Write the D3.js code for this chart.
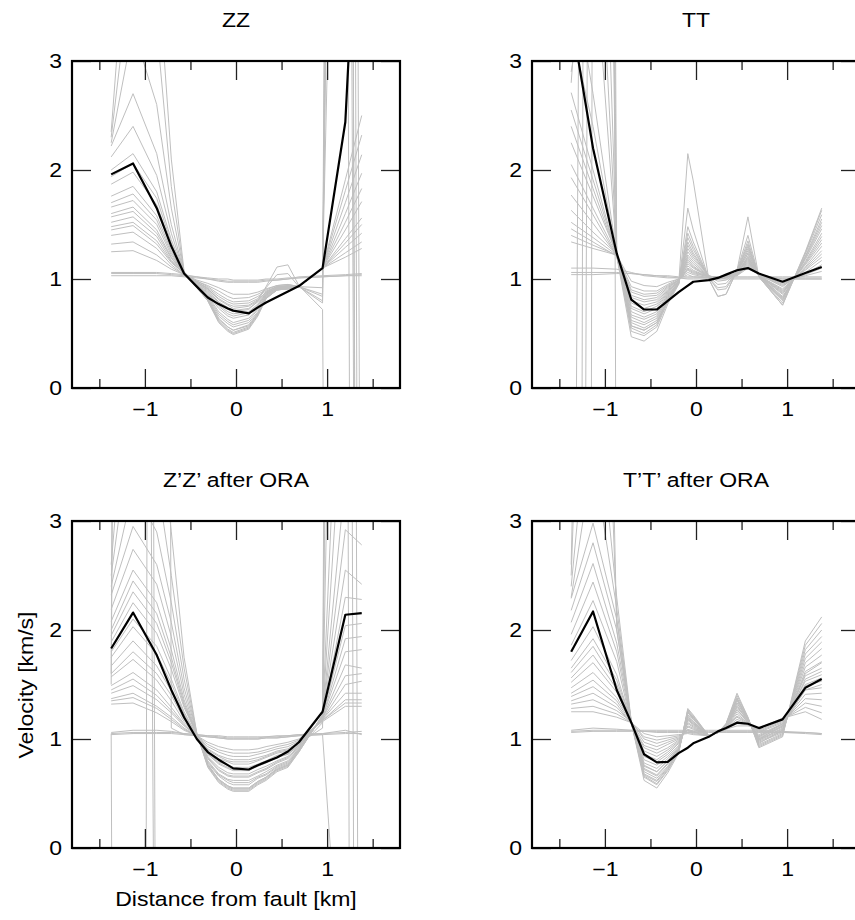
<!DOCTYPE html>
<html><head><meta charset="utf-8">
<script src="https://cdn.jsdelivr.net/npm/d3@7"></script>
<style>body{margin:0;background:#fff}svg{display:block}</style>
</head><body><svg id="chart" width="855" height="920"></svg>
<script>
// ---------- DATA ----------
const stations = [-1.37,-1.13,-0.87,-0.71,-0.57,-0.43,-0.31,-0.19,-0.09,-0.03,0.14,0.24,0.33,0.45,0.57,0.69,0.95,1.2,1.38];
const panelTitles = ["ZZ","TT","Z\u2019Z\u2019 after ORA","T\u2019T\u2019 after ORA"];
const xTickValues = [-1,0,1];
const xMinorTicks = [-1.5,-0.5,0.5,1.5];
const yTickValues = [0,1,2,3];
const xDomain = [-1.8,1.8];
const yDomain = [0,3];
const xAxisLabel = "Distance from fault [km]";
const yAxisLabel = "Velocity [km/s]";

const zzBlack = [1.96,2.06,1.65,1.30,1.05,0.93,0.83,0.77,0.73,0.71,0.685,0.74,0.785,0.835,0.885,0.935,1.10,2.44,5.4];
const zzGray = [
[1.25,1.26,1.17,1.09,1.04,0.99,0.96,0.92,0.88,0.86,0.86,0.88,0.91,0.94,0.95,0.93,1.10,1.20,1.28],
[1.32,1.34,1.22,1.11,1.04,0.98,0.94,0.89,0.84,0.82,0.83,0.86,0.90,0.94,0.95,0.93,1.10,1.24,1.34],
[1.40,1.43,1.28,1.13,1.04,0.98,0.93,0.86,0.81,0.79,0.80,0.84,0.89,0.93,0.94,0.93,1.10,1.29,1.42],
[1.48,1.52,1.35,1.16,1.05,0.97,0.91,0.82,0.77,0.75,0.76,0.81,0.88,0.93,0.94,0.93,1.10,1.33,1.50],
[1.57,1.62,1.42,1.19,1.05,0.96,0.90,0.79,0.74,0.71,0.73,0.79,0.87,0.92,0.93,0.93,1.10,1.37,1.56],
[1.66,1.72,1.50,1.22,1.05,0.95,0.88,0.76,0.70,0.68,0.70,0.77,0.87,0.92,0.93,0.93,1.10,1.45,1.71],
[1.76,1.85,1.58,1.26,1.05,0.95,0.86,0.73,0.66,0.64,0.67,0.75,0.86,0.92,0.93,0.93,1.10,1.52,1.83],
[1.87,1.98,1.68,1.31,1.05,0.94,0.85,0.70,0.63,0.60,0.64,0.73,0.85,0.91,0.92,0.93,1.10,1.60,1.97],
[2.00,2.15,1.80,1.36,1.06,0.93,0.83,0.66,0.59,0.56,0.60,0.70,0.84,0.91,0.92,0.93,1.10,1.70,2.14],
[2.12,2.40,1.95,1.42,1.06,0.93,0.82,0.63,0.56,0.53,0.57,0.68,0.83,0.90,0.91,0.93,1.10,1.81,2.32],
[2.22,2.70,2.15,1.50,1.06,0.92,0.80,0.60,0.52,0.49,0.54,0.66,0.82,0.90,0.91,0.93,1.10,1.91,2.50],
[2.25,3.30,2.60,1.65,1.06,0.92,0.80,0.61,0.53,0.50,0.55,0.67,0.82,0.90,0.91,0.93,0.80,25,-20],
[2.30,4.00,3.30,1.85,1.06,0.93,0.81,0.62,0.54,0.51,0.56,0.68,0.83,0.90,0.91,0.93,0.86,20,-15],
[2.35,5.00,4.00,2.10,1.07,0.93,0.82,0.64,0.56,0.53,0.58,0.69,0.83,0.90,0.91,0.93,0.92,18,30],
[1.60,1.66,1.45,1.20,1.05,0.96,0.89,0.78,0.72,0.70,0.72,0.80,0.93,1.11,1.13,0.94,0.72,-30,-30],
[1.45,1.49,1.32,1.15,1.05,0.97,0.92,0.84,0.79,0.77,0.78,0.82,0.92,1.04,1.05,0.93,0.78,28,-12],
[1.52,1.57,1.39,1.17,1.05,0.97,0.91,0.81,0.76,0.73,0.75,0.80,0.88,0.93,0.93,0.93,0.84,35,-6],
[1.70,1.78,1.54,1.24,1.05,0.95,0.87,0.75,0.68,0.66,0.69,0.76,0.86,0.92,0.93,0.93,1.10,10,-30],
[1.94,2.06,1.74,1.33,1.06,0.94,0.84,0.68,0.61,0.58,0.62,0.72,0.85,0.91,0.92,0.93,1.10,15,-15],
[1.05,1.05,1.05,1.04,1.03,1.02,1.01,1.00,1.00,0.99,0.99,0.99,1.00,1.00,1.01,1.01,1.02,1.03,1.04],
[1.03,1.03,1.03,1.03,1.02,1.01,1.00,0.99,0.98,0.98,0.98,0.98,0.99,0.99,1.00,1.01,1.02,1.03,1.03],
[1.06,1.06,1.06,1.05,1.04,1.02,1.00,0.98,0.97,0.97,0.97,0.97,0.98,0.99,1.00,1.02,1.03,1.04,1.05]
];

const ttBlack = [3.4,2.2,1.235,0.81,0.72,0.72,0.80,0.88,0.94,0.975,0.99,1.01,1.04,1.08,1.10,1.05,0.975,1.055,1.11];
const ttGray = [
[1.34,1.28,1.22,0.98,0.94,0.93,0.97,1.00,1.04,1.02,1.01,1.01,1.02,1.03,1.10,1.04,1.00,1.00,1.00],
[1.40,1.31,1.22,0.93,0.89,0.89,0.95,1.00,1.06,1.04,1.01,1.01,1.02,1.03,1.12,1.04,0.98,1.03,1.07],
[1.46,1.34,1.21,0.88,0.84,0.85,0.93,0.99,1.09,1.06,1.02,1.01,1.02,1.04,1.14,1.04,0.95,1.05,1.13],
[1.52,1.38,1.22,0.83,0.79,0.81,0.91,0.99,1.12,1.08,1.02,1.02,1.02,1.04,1.16,1.04,0.93,1.08,1.20],
[1.63,1.43,1.23,0.78,0.73,0.77,0.89,0.98,1.16,1.11,1.02,1.02,1.03,1.05,1.18,1.03,0.90,1.10,1.26],
[1.77,1.51,1.22,0.73,0.68,0.73,0.87,0.98,1.20,1.14,1.02,1.02,1.03,1.05,1.20,1.03,0.88,1.13,1.33],
[1.93,1.59,1.21,0.67,0.63,0.68,0.85,0.97,1.25,1.18,1.03,1.01,1.02,1.06,1.23,1.03,0.86,1.15,1.39],
[2.05,1.65,1.22,0.62,0.58,0.64,0.83,0.97,1.31,1.22,1.03,1.00,1.01,1.06,1.26,1.03,0.83,1.18,1.46],
[2.25,1.76,1.23,0.57,0.53,0.60,0.81,0.96,1.38,1.27,1.02,0.95,0.96,1.07,1.30,1.03,0.81,1.20,1.52],
[2.55,1.91,1.22,0.52,0.48,0.56,0.79,0.96,1.48,1.34,1.01,0.90,0.91,1.07,1.35,1.02,0.78,1.23,1.59],
[2.71,2.00,1.21,0.47,0.43,0.52,0.77,0.95,1.65,1.45,1.00,0.84,0.86,1.08,1.40,1.02,0.76,1.25,1.65],
[2.40,1.83,1.22,0.57,0.53,0.60,0.81,0.96,2.15,1.90,1.00,0.84,0.86,1.08,1.57,1.02,0.76,1.24,1.63],
[3.30,2.40,1.22,0.70,0.65,0.70,0.86,0.97,1.22,1.16,1.02,1.01,1.02,1.05,1.21,1.03,0.87,1.14,1.36],
[3.90,2.70,1.22,0.60,0.55,0.62,0.82,0.96,1.34,1.24,1.02,0.98,0.99,1.06,1.28,1.03,0.82,1.19,1.49],
[2.90,4.20,1.22,0.80,0.76,0.79,0.90,0.98,1.14,1.10,1.02,1.02,1.03,1.05,1.17,1.03,0.91,1.09,1.23],
[2.80,5.50,1.22,0.90,0.86,0.87,0.94,0.99,1.08,1.05,1.02,1.01,1.02,1.04,1.13,1.04,0.96,1.04,1.10],
[-8,25,1.22,0.75,0.70,0.75,0.88,0.98,1.18,1.12,1.02,1.02,1.03,1.05,1.19,1.03,0.89,1.11,1.30],
[-40,40,1.22,0.85,0.81,0.83,0.92,0.99,1.10,1.07,1.02,1.02,1.02,1.04,1.15,1.04,0.94,1.06,1.17],
[-30,15,1.22,0.65,0.60,0.66,0.84,0.97,1.28,1.20,1.03,1.00,1.01,1.06,1.24,1.03,0.84,1.16,1.42],
[-100,8,1.22,0.55,0.50,0.58,0.80,0.96,1.42,1.30,1.01,0.92,0.93,1.07,1.32,1.02,0.80,1.21,1.55],
[10,60,-3,-50,-50,-50,-50,-50,-50,-50,-50,-50,-50,-50,-50,-50,-50,-50,-50],
[1.10,1.10,1.09,1.06,1.03,1.02,1.01,1.01,1.00,1.00,1.00,1.00,1.00,1.00,1.00,1.00,1.00,1.00,1.00],
[1.06,1.06,1.06,1.05,1.04,1.03,1.02,1.01,1.01,1.01,1.01,1.01,1.01,1.01,1.01,1.01,1.01,1.01,1.01],
[1.04,1.04,1.05,1.05,1.04,1.03,1.03,1.02,1.02,1.02,1.02,1.02,1.02,1.02,1.02,1.02,1.02,1.02,1.02]
];

const zzOraBlack = [1.83,2.16,1.77,1.45,1.20,1.00,0.88,0.81,0.76,0.73,0.72,0.76,0.79,0.83,0.885,0.97,1.25,2.14,2.155];
const zzOraGray = [
[1.32,1.33,1.24,1.16,1.08,1.03,0.97,0.93,0.91,0.90,0.90,0.91,0.93,0.95,0.97,1.00,1.16,1.30,1.30],
[1.35,1.38,1.28,1.18,1.09,1.03,0.95,0.90,0.88,0.87,0.87,0.88,0.90,0.93,0.95,0.99,1.17,1.33,1.33],
[1.37,1.42,1.30,1.20,1.10,1.03,0.93,0.88,0.85,0.84,0.84,0.86,0.88,0.91,0.93,0.98,1.17,1.36,1.36],
[1.42,1.49,1.36,1.24,1.12,1.03,0.91,0.85,0.82,0.81,0.81,0.83,0.85,0.89,0.91,0.97,1.18,1.42,1.42],
[1.49,1.61,1.45,1.29,1.14,1.03,0.89,0.82,0.79,0.77,0.77,0.80,0.83,0.87,0.89,0.96,1.18,1.50,1.53],
[1.57,1.73,1.54,1.35,1.16,1.03,0.87,0.79,0.76,0.74,0.74,0.77,0.80,0.85,0.87,0.95,1.19,1.58,1.60],
[1.67,1.90,1.67,1.44,1.20,1.03,0.86,0.77,0.73,0.71,0.71,0.75,0.78,0.83,0.86,0.94,1.19,1.68,1.65],
[1.75,2.03,1.78,1.51,1.23,1.03,0.84,0.74,0.69,0.68,0.68,0.72,0.75,0.80,0.84,0.93,1.20,1.80,1.82],
[1.89,2.25,1.97,1.64,1.29,1.04,0.82,0.71,0.66,0.65,0.65,0.69,0.72,0.78,0.82,0.92,1.20,1.92,1.94],
[1.95,2.35,2.06,1.70,1.31,1.04,0.80,0.68,0.63,0.62,0.62,0.66,0.70,0.76,0.80,0.91,1.21,2.04,2.06],
[2.08,2.55,2.25,1.82,1.36,1.04,0.78,0.66,0.60,0.58,0.58,0.64,0.67,0.74,0.78,0.90,1.21,2.30,2.28],
[2.19,2.74,2.42,1.94,1.41,1.04,0.76,0.63,0.57,0.55,0.55,0.61,0.65,0.72,0.76,0.89,1.22,2.55,2.42],
[2.32,2.95,2.60,2.07,1.47,1.05,0.74,0.60,0.54,0.52,0.52,0.58,0.62,0.70,0.74,0.88,1.22,2.92,2.78],
[2.40,3.30,2.90,2.25,1.55,1.05,0.75,0.61,0.55,0.53,0.53,0.59,0.63,0.71,0.75,0.88,1.22,3.40,3.10],
[2.50,4.00,3.40,2.50,1.65,1.05,0.76,0.62,0.56,0.54,0.54,0.60,0.64,0.72,0.76,0.89,1.21,4.50,4.00],
[2.60,5.00,4.20,2.90,1.75,1.05,0.77,0.63,0.57,0.55,0.55,0.61,0.65,0.73,0.77,0.89,1.21,6.00,5.00],
[1.05,-50,40,1.10,1.04,1.03,1.02,1.01,1.00,1.00,1.00,1.00,1.01,1.01,1.02,1.03,1.04,-2.0,-2.0],
[1.50,30,-5,-40,-40,-40,-40,-40,-40,-40,-40,-40,-40,-40,-40,-40,-40,-40,-40],
[1.60,50,-4,-40,-40,-40,-40,-40,-40,-40,-40,-40,-40,-40,-40,-40,-40,-40,-40],
[1.45,1.55,1.40,1.26,1.13,1.03,0.90,0.84,0.80,0.79,0.79,0.81,0.84,0.88,0.90,0.96,1.10,30,-10],
[1.60,1.80,1.60,1.40,1.18,1.03,0.86,0.78,0.74,0.72,0.72,0.76,0.79,0.84,0.86,0.94,1.20,20,-20],
[1.80,2.10,1.85,1.55,1.25,1.03,0.83,0.72,0.67,0.66,0.66,0.70,0.73,0.79,0.83,0.92,1.15,12,-40],
[2.00,2.45,2.15,1.75,1.33,1.04,0.79,0.67,0.62,0.60,0.60,0.65,0.68,0.75,0.79,0.90,1.20,40,45],
[1.06,1.08,1.08,1.07,1.05,1.04,1.03,1.02,1.01,1.01,1.01,1.01,1.02,1.02,1.03,1.04,1.05,1.06,1.07],
[1.04,1.05,1.05,1.05,1.04,1.03,1.02,1.01,1.00,1.00,1.00,1.00,1.01,1.01,1.02,1.03,1.04,1.05,1.05],
[1.05,1.06,1.06,1.06,1.05,1.04,1.03,1.03,1.02,1.02,1.02,1.02,1.02,1.03,1.03,1.04,1.05,1.08,1.04]
];

const ttOraBlack = [1.80,2.17,1.45,1.15,0.86,0.785,0.79,0.87,0.92,0.96,1.02,1.07,1.10,1.15,1.14,1.10,1.18,1.47,1.55];
const ttOraGray = [
[1.25,1.25,1.20,1.15,1.05,1.02,1.03,1.04,1.05,1.04,1.03,1.06,1.09,1.12,1.12,1.10,1.19,1.25,1.18],
[1.28,1.30,1.23,1.15,1.02,0.99,1.01,1.03,1.06,1.05,1.03,1.06,1.09,1.14,1.13,1.09,1.18,1.29,1.24],
[1.32,1.36,1.26,1.16,1.00,0.96,0.99,1.02,1.08,1.06,1.03,1.06,1.10,1.16,1.13,1.08,1.17,1.33,1.30],
[1.35,1.42,1.29,1.15,0.97,0.93,0.97,1.01,1.09,1.07,1.03,1.06,1.10,1.18,1.14,1.07,1.16,1.37,1.36],
[1.39,1.48,1.32,1.14,0.94,0.90,0.95,1.00,1.11,1.09,1.03,1.06,1.10,1.20,1.14,1.06,1.15,1.41,1.42],
[1.42,1.54,1.35,1.15,0.92,0.87,0.92,0.99,1.12,1.10,1.03,1.06,1.11,1.21,1.15,1.04,1.14,1.45,1.47],
[1.47,1.61,1.38,1.16,0.89,0.84,0.90,0.98,1.14,1.11,1.03,1.06,1.11,1.23,1.15,1.03,1.13,1.49,1.53],
[1.52,1.70,1.43,1.15,0.86,0.81,0.88,0.97,1.15,1.12,1.03,1.06,1.11,1.25,1.16,1.02,1.12,1.53,1.59],
[1.56,1.77,1.46,1.14,0.84,0.79,0.86,0.96,1.17,1.13,1.03,1.06,1.12,1.27,1.16,1.01,1.11,1.58,1.65],
[1.61,1.85,1.50,1.15,0.81,0.76,0.84,0.94,1.18,1.14,1.03,1.06,1.12,1.29,1.17,1.00,1.09,1.62,1.71],
[1.65,1.92,1.54,1.16,0.78,0.73,0.82,0.93,1.19,1.15,1.03,1.06,1.12,1.31,1.17,0.99,1.08,1.66,1.77],
[1.72,2.03,1.59,1.15,0.75,0.70,0.80,0.92,1.21,1.16,1.03,1.06,1.13,1.33,1.18,0.98,1.07,1.70,1.83],
[1.86,2.27,1.71,1.14,0.73,0.67,0.78,0.91,1.22,1.18,1.03,1.06,1.13,1.35,1.18,0.97,1.06,1.74,1.89],
[1.96,2.44,1.80,1.15,0.70,0.64,0.75,0.90,1.24,1.19,1.03,1.06,1.13,1.36,1.19,0.95,1.05,1.78,1.94],
[2.07,2.61,1.88,1.16,0.67,0.61,0.73,0.89,1.25,1.20,1.03,1.06,1.14,1.38,1.19,0.94,1.04,1.82,2.00],
[2.18,2.80,2.00,1.15,0.65,0.58,0.71,0.88,1.27,1.21,1.03,1.06,1.14,1.40,1.20,0.93,1.03,1.86,2.06],
[2.29,2.98,2.10,1.15,0.62,0.55,0.69,0.87,1.28,1.22,1.03,1.06,1.14,1.42,1.20,0.92,1.02,1.90,2.12],
[2.30,3.60,2.20,1.15,0.66,0.59,0.72,0.88,1.26,1.20,1.03,1.06,1.13,1.37,1.19,0.96,1.08,1.60,1.70],
[2.40,4.50,2.30,1.16,0.68,0.62,0.74,0.89,1.24,1.18,1.03,1.06,1.12,1.33,1.18,0.99,1.10,1.55,1.62],
[2.50,8.00,2.10,1.16,0.72,0.66,0.77,0.90,1.20,1.16,1.03,1.06,1.12,1.30,1.17,1.00,1.12,1.50,1.56],
[2.60,12.0,2.00,1.15,0.76,0.70,0.80,0.91,1.18,1.14,1.03,1.06,1.11,1.27,1.16,1.02,1.14,1.45,1.50],
[1.08,1.10,1.09,1.08,1.07,1.07,1.07,1.07,1.07,1.07,1.07,1.07,1.07,1.07,1.07,1.07,1.06,1.06,1.05],
[1.06,1.07,1.07,1.07,1.07,1.06,1.06,1.06,1.06,1.06,1.06,1.06,1.06,1.06,1.06,1.06,1.06,1.05,1.04],
[1.07,1.08,1.08,1.08,1.08,1.08,1.08,1.08,1.08,1.08,1.08,1.08,1.08,1.08,1.08,1.08,1.07,1.06,1.05]
];

// ---------- LAYOUT ----------
const FONT = "'Liberation Sans', Arial, Helvetica, sans-serif";
const FS = 19.5;        // font size
const SX = 1.18;        // horizontal glyph stretch seen in the reference
const panelW = 328, panelH = 327;
const panels = [
  {title: panelTitles[0], black: zzBlack,    gray: zzGray,    left: 72,  top: 61},
  {title: panelTitles[1], black: ttBlack,    gray: ttGray,    left: 532, top: 61},
  {title: panelTitles[2], black: zzOraBlack, gray: zzOraGray, left: 72,  top: 521},
  {title: panelTitles[3], black: ttOraBlack, gray: ttOraGray, left: 532, top: 521}
];

const svg = d3.select("#chart");
const defs = svg.append("defs");

function label(tx, ty, rot, txt) {
  return svg.append("text")
    .attr("transform", `translate(${tx},${ty})` + (rot ? ` rotate(${rot})` : "") + ` scale(${SX},1)`)
    .attr("text-anchor", "middle")
    .attr("font-family", FONT).attr("font-size", FS)
    .attr("fill", "#000")
    .text(txt);
}

panels.forEach((p, i) => {
  const x = d3.scaleLinear().domain(xDomain).range([p.left, p.left + panelW]);
  const y = d3.scaleLinear().domain(yDomain).range([p.top + panelH, p.top]);

  defs.append("clipPath").attr("id", "clip" + i)
    .append("rect").attr("x", p.left).attr("y", p.top).attr("width", panelW).attr("height", panelH);

  const line = d3.line().x((d, j) => x(stations[j])).y(d => y(d));
  const plot = svg.append("g").attr("clip-path", `url(#clip${i})`);

  plot.selectAll("path.gray").data(p.gray).join("path")
    .attr("class", "gray")
    .attr("d", line)
    .attr("fill", "none")
    .attr("stroke", "#bfbfbf")
    .attr("stroke-width", 1);

  plot.append("path")
    .attr("d", line(p.black))
    .attr("fill", "none")
    .attr("stroke", "#000")
    .attr("stroke-width", 2.2)
    .attr("stroke-linejoin", "round");

  const styleAxis = g => {
    g.select(".domain").remove();
    g.attr("font-size", FS).attr("font-family", FONT).attr("color", "#222");
    g.selectAll(".tick line").attr("stroke-width", 1.3);
    g.selectAll("text").attr("fill", "#000").attr("transform", `scale(${SX},1)`);
  };

  // bottom axis
  svg.append("g").attr("transform", `translate(0,${p.top + panelH})`)
    .call(d3.axisBottom(x).tickValues(xTickValues).tickSizeInner(-19).tickSizeOuter(0)
      .tickPadding(14).tickFormat(d3.format("d")))
    .call(styleAxis);
  svg.append("g").attr("transform", `translate(0,${p.top + panelH})`)
    .call(d3.axisBottom(x).tickValues(xMinorTicks).tickSizeInner(-9).tickSizeOuter(0).tickFormat(""))
    .call(styleAxis);
  // top axis
  svg.append("g").attr("transform", `translate(0,${p.top})`)
    .call(d3.axisTop(x).tickValues(xTickValues).tickSizeInner(-19).tickSizeOuter(0).tickFormat(""))
    .call(styleAxis);
  svg.append("g").attr("transform", `translate(0,${p.top})`)
    .call(d3.axisTop(x).tickValues(xMinorTicks).tickSizeInner(-9).tickSizeOuter(0).tickFormat(""))
    .call(styleAxis);
  // left axis
  const gl = svg.append("g").attr("transform", `translate(${p.left},0)`)
    .call(d3.axisLeft(y).tickValues(yTickValues).tickSizeInner(-19).tickSizeOuter(0)
      .tickPadding(10).tickFormat(d3.format("d")))
    .call(styleAxis);
  gl.selectAll("text").attr("x", -10 / SX);
  // right axis
  svg.append("g").attr("transform", `translate(${p.left + panelW},0)`)
    .call(d3.axisRight(y).tickValues(yTickValues).tickSizeInner(-19).tickSizeOuter(0).tickFormat(""))
    .call(styleAxis);

  // frame
  svg.append("rect")
    .attr("x", p.left).attr("y", p.top).attr("width", panelW).attr("height", panelH)
    .attr("fill", "none").attr("stroke", "#000").attr("stroke-width", 2.2);

  // title
  label(p.left + panelW / 2, p.top - 34.3, 0, p.title);
});

// axis labels (bottom-left panel)
label(72 + panelW / 2, 906, 0, xAxisLabel);
label(26, 685, -90, yAxisLabel).attr("dy", "0.35em");
</script>
</body></html>
